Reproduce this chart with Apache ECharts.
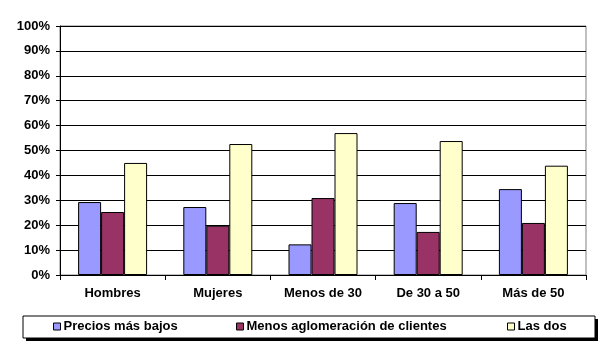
<!DOCTYPE html>
<html>
<head>
<meta charset="utf-8">
<script src="https://cdn.jsdelivr.net/npm/echarts@6/dist/echarts.min.js"></script>
<style>
  html, body { margin: 0; padding: 0; background: #fff; }
  #chart { width: 600px; height: 352px; }
</style>
</head>
<body>
<div id="chart"></div>
<script>
// datos
const categories = ['Hombres', 'Mujeres', 'Menos de 30', 'De 30 a 50', 'Más de 50']
const seriesNames = ['Precios más bajos', 'Menos aglomeración de clientes', 'Las dos']
const preciosBajos = [0.293, 0.273, 0.123, 0.289, 0.345]
const menosAglomeracion = [0.253, 0.198, 0.309, 0.173, 0.209]
const lasDos = [0.45, 0.526, 0.57, 0.538, 0.439]
const colors = ['#9999FF', '#993366', '#FFFFCC']
const legendLeft = [53, 236, 507]

const font = 'Liberation Sans, Arial, sans-serif'

const barSeries = (name, data, color) => ({
  name: name,
  type: 'bar',
  data: data,
  barWidth: 23,
  barGap: '0%',
  itemStyle: { color: color, borderColor: '#000', borderWidth: 1 }
})

let chart = echarts.init(document.getElementById('chart'))
chart.setOption({
  animation: false,
  backgroundColor: '#fff',
  textStyle: { fontFamily: font },
  grid: {
    left: 60, right: 14, top: 26, bottom: 77,
    show: true, borderColor: '#808080', borderWidth: 1
  },
  graphic: [
    { type: 'rect', shape: { x: 26, y: 319, width: 572, height: 22 }, style: { fill: '#000' }, z: -1 },
    { type: 'rect', shape: { x: 23, y: 316, width: 572, height: 22 }, style: { fill: '#fff', stroke: '#000', lineWidth: 1 }, z: 0 }
  ],
  legend: seriesNames.map((n, i) => ({
    data: [n],
    left: legendLeft[i],
    top: 320,
    icon: 'rect',
    itemWidth: 7,
    itemHeight: 7,
    itemGap: 0,
    padding: 0,
    z: 5,
    itemStyle: { borderColor: '#000', borderWidth: 1 },
    textStyle: { fontFamily: font, fontWeight: 'bold', fontSize: 13, color: '#000', padding: [0, 0, 0, -2] }
  })),
  xAxis: {
    type: 'category',
    data: categories,
    axisLine: { lineStyle: { color: '#000', width: 1 } },
    axisTick: { show: true, length: 5, lineStyle: { color: '#000' } },
    axisLabel: { fontFamily: font, fontWeight: 'bold', fontSize: 13, color: '#000', margin: 12 }
  },
  yAxis: {
    type: 'value',
    min: 0,
    max: 1,
    interval: 0.1,
    axisLine: { show: true, lineStyle: { color: '#000', width: 1 } },
    axisTick: { show: true, length: 4, lineStyle: { color: '#000' } },
    axisLabel: {
      fontFamily: font, fontWeight: 'bold', fontSize: 13, color: '#000', margin: 10,
      formatter: v => Math.round(v * 100) + '%'
    },
    splitLine: { show: true, lineStyle: { color: '#000', width: 1 } }
  },
  series: [
    barSeries(seriesNames[0], preciosBajos, colors[0]),
    barSeries(seriesNames[1], menosAglomeracion, colors[1]),
    barSeries(seriesNames[2], lasDos, colors[2])
  ]
})
</script>
</body>
</html>
